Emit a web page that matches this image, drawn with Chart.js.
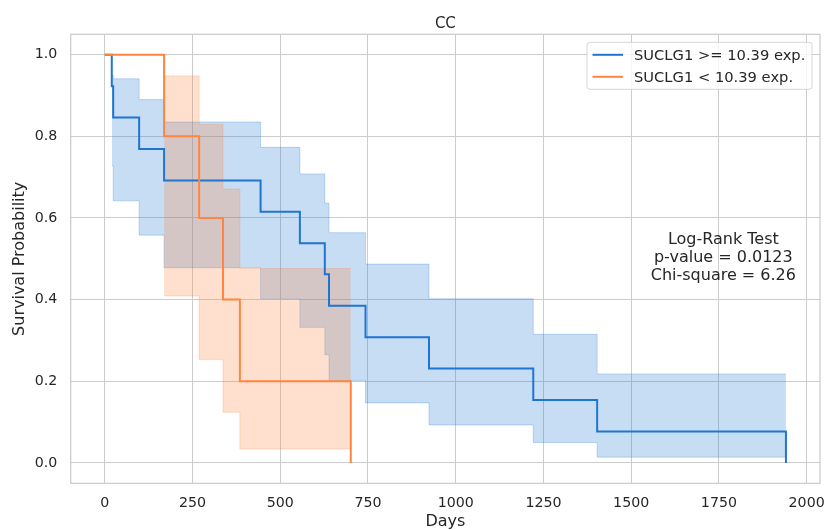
<!DOCTYPE html>
<html>
<head>
<meta charset="utf-8">
<script src="https://cdn.jsdelivr.net/npm/chart.js@4/dist/chart.umd.min.js"></script>
<style>
html,body{margin:0;padding:0;background:#ffffff;}
#wrap{width:826px;height:530px;position:relative;}
</style>
</head>
<body>
<div id="wrap"><canvas id="c" width="826" height="530"></canvas></div>
<script>
// ---------- data ----------
const chartTitle = 'CC';
const xAxisLabel = 'Days';
const yAxisLabel = 'Survival Probability';
const seriesNames = ['SUCLG1 >= 10.39 exp.', 'SUCLG1 < 10.39 exp.'];

// high-expression group (Kaplan-Meier estimate)
const highTimes = [0, 20, 24, 98, 169, 444, 556, 627, 639, 743, 924, 1221, 1403, 1941];
const highSurv  = [1.0, 0.923, 0.846, 0.769, 0.692, 0.615, 0.538, 0.462, 0.385, 0.308, 0.231, 0.154, 0.077, 0.0];
// high-expression group confidence band
const highCiTimes = [20, 24, 98, 169, 444, 556, 627, 639, 743, 924, 1221, 1403, 1941];
const highCiUpper = [0.950, 0.941, 0.890, 0.835, 0.773, 0.708, 0.636, 0.564, 0.487, 0.402, 0.315, 0.218, 0.218];
const highCiLower = [0.728, 0.642, 0.558, 0.478, 0.402, 0.332, 0.265, 0.202, 0.147, 0.093, 0.050, 0.014, 0.014];

// low-expression group (Kaplan-Meier estimate)
const lowTimes = [0, 169, 269, 337, 385, 701];
const lowSurv  = [1.0, 0.8, 0.6, 0.4, 0.2, 0.0];
// low-expression group confidence band
const lowCiTimes = [169, 269, 337, 385, 701];
const lowCiUpper = [0.948, 0.829, 0.671, 0.476, 0.476];
const lowCiLower = [0.409, 0.253, 0.124, 0.034, 0.034];

const xTicks = [0, 250, 500, 750, 1000, 1250, 1500, 1750, 2000];
const xTickLabels = ['0', '250', '500', '750', '1000', '1250', '1500', '1750', '2000'];
const yTicks = [0.0, 0.2, 0.4, 0.6, 0.8, 1.0];
const yTickLabels = ['0.0', '0.2', '0.4', '0.6', '0.8', '1.0'];
const xRange = [-97.05, 2038.05];
const yRange = [-0.05, 1.05];
const statLines = ['Log-Rank Test', 'p-value = 0.0123', 'Chi-square = 6.26'];

// ---------- style ----------
const FONT = 'DejaVu Sans';
const TEXT = '#262626';
const GRID = '#cccccc';
const BLUE = '#1e76d2';
const ORANGE = '#ff8540';
const BLUE_BAND = 'rgba(30,118,210,0.25)';
const ORANGE_BAND = 'rgba(255,133,64,0.25)';
const lineColors = [BLUE, ORANGE];

const pts = (xs, ys) => xs.map((x, i) => ({x: x, y: ys[i]}));

const frame = {
  id: 'frame',
  afterDatasetsDraw(chart) {
    const a = chart.chartArea, ctx = chart.ctx;
    ctx.save();
    ctx.strokeStyle = GRID;
    ctx.lineWidth = 1.25;
    ctx.strokeRect(a.left, a.top, a.right - a.left, a.bottom - a.top);
    ctx.restore();
  }
};

const extras = {
  id: 'extras',
  afterDraw(chart) {
    const a = chart.chartArea, ctx = chart.ctx;
    ctx.save();
    // stats annotation
    ctx.fillStyle = TEXT;
    ctx.font = '16px "' + FONT + '"';
    ctx.textAlign = 'center';
    ctx.textBaseline = 'alphabetic';
    const cx = a.left + 0.871 * (a.right - a.left);
    const by = a.top + 0.466 * (a.bottom - a.top);
    statLines.forEach((t, i) => ctx.fillText(t, cx, by + i * 18.3));

    // legend box (upper right)
    const ly = a.top + 8, lw = 225, lh = 47;
    const bx = a.right - 8 - lw;
    ctx.beginPath();
    ctx.roundRect(bx, ly, lw, lh, 3);
    ctx.fillStyle = 'rgba(255,255,255,0.8)';
    ctx.fill();
    ctx.strokeStyle = 'rgba(204,204,204,0.8)';
    ctx.lineWidth = 1;
    ctx.stroke();
    ctx.font = '14.7px "' + FONT + '"';
    ctx.textAlign = 'left';
    ctx.textBaseline = 'middle';
    seriesNames.forEach((name, i) => {
      const yy = ly + 12.5 + i * 22;
      ctx.strokeStyle = lineColors[i];
      ctx.lineWidth = 2;
      ctx.beginPath();
      ctx.moveTo(bx + 5.5, yy);
      ctx.lineTo(bx + 36, yy);
      ctx.stroke();
      ctx.fillStyle = TEXT;
      ctx.fillText(name, bx + 47, yy + 1);
    });
    ctx.restore();
  }
};

Chart.defaults.font.family = FONT;
Chart.defaults.color = TEXT;

new Chart(document.getElementById('c'), {
  type: 'line',
  data: {
    datasets: [
      {label: seriesNames[0], data: pts(highTimes, highSurv), stepped: 'before',
       borderColor: BLUE, borderWidth: 2, pointRadius: 0, fill: false, order: 1},
      {label: seriesNames[1], data: pts(lowTimes, lowSurv), stepped: 'before',
       borderColor: ORANGE, borderWidth: 2, pointRadius: 0, fill: false, order: 0},
      {label: 'hi upper', data: pts(highCiTimes, highCiUpper), stepped: 'before',
       borderColor: BLUE_BAND, borderWidth: 1, pointRadius: 0, fill: '+1', backgroundColor: BLUE_BAND, order: 3},
      {label: 'hi lower', data: pts(highCiTimes, highCiLower), stepped: 'before',
       borderColor: BLUE_BAND, borderWidth: 1, pointRadius: 0, fill: false, order: 3},
      {label: 'lo upper', data: pts(lowCiTimes, lowCiUpper), stepped: 'before',
       borderColor: ORANGE_BAND, borderWidth: 1, pointRadius: 0, fill: '+1', backgroundColor: ORANGE_BAND, order: 2},
      {label: 'lo lower', data: pts(lowCiTimes, lowCiLower), stepped: 'before',
       borderColor: ORANGE_BAND, borderWidth: 1, pointRadius: 0, fill: false, order: 2}
    ]
  },
  options: {
    responsive: false,
    devicePixelRatio: 1,
    animation: false,
    events: [],
    layout: {padding: {left: 0, right: 6, top: 0, bottom: 0}},
    plugins: {
      legend: {display: false},
      tooltip: {enabled: false},
      title: {
        display: true, text: chartTitle, fullSize: false, color: TEXT,
        font: {family: FONT, size: 15, weight: 'normal', lineHeight: 1},
        padding: {top: 16.5, bottom: 2.8}
      }
    },
    scales: {
      x: {
        type: 'linear', min: xRange[0], max: xRange[1],
        afterBuildTicks: s => { s.ticks = xTicks.map(v => ({value: v})); },
        afterFit: s => { s.height = 46.7; s.paddingLeft = 0; s.paddingRight = 0; },
        ticks: {autoSkip: false, maxRotation: 0, padding: 11.3, color: TEXT,
                font: {size: 14.2}, callback: (v, i) => xTickLabels[i]},
        grid: {color: GRID, lineWidth: 1, drawTicks: false},
        border: {display: false},
        title: {display: true, text: xAxisLabel, color: TEXT,
                font: {size: 16, lineHeight: 1}, padding: {top: 0, bottom: 0.2}}
      },
      y: {
        type: 'linear', min: yRange[0], max: yRange[1],
        afterBuildTicks: s => { s.ticks = yTicks.map(v => ({value: v})); },
        afterFit: s => { s.width = 70.7; s.paddingTop = 0; s.paddingBottom = 0; },
        ticks: {autoSkip: false, padding: 13.4, color: TEXT,
                font: {size: 14.2}, callback: (v, i) => yTickLabels[i]},
        grid: {color: GRID, lineWidth: 1, drawTicks: false},
        border: {display: false},
        title: {display: true, text: yAxisLabel, color: TEXT,
                font: {size: 16, lineHeight: 1}, padding: {top: 12, bottom: 0}}
      }
    }
  },
  plugins: [frame, extras]
});
</script>
</body>
</html>
